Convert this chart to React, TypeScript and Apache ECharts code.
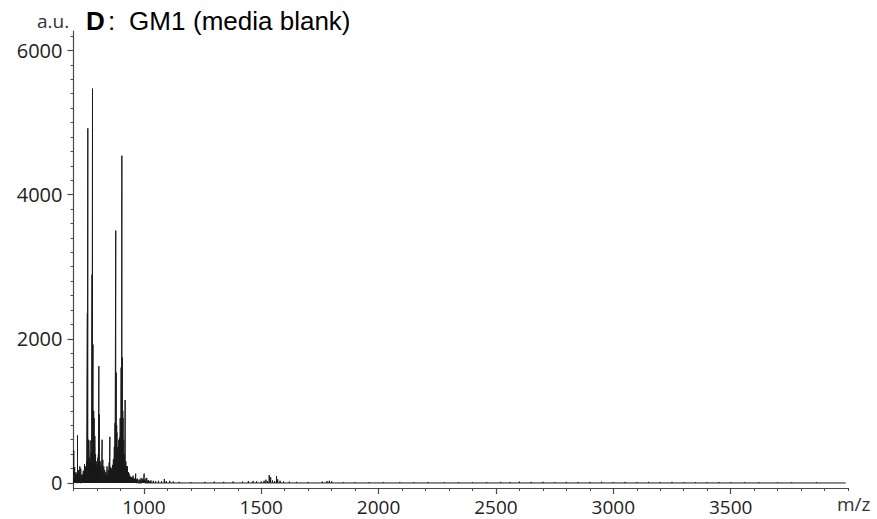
import React, { useEffect, useRef } from "react";
import * as echarts from "echarts";

// Mass range covered by the acquired spectrum (m/z)
const spectrumRange = [700, 3990];

// Centroided peaks: m/z positions and intensities (a.u.)
const peakMz = [
  701, 705, 710, 717, 722, 727, 731, 737, 742, 747, 752, 756, 759, 761, 764, 768,
  771, 775, 779, 781, 783, 786, 788, 791, 794, 797, 800, 804, 808, 810, 813, 817,
  822, 825, 829, 833, 838, 843, 848, 852, 855, 858, 862, 866, 870, 874, 877, 880,
  882, 885, 889, 893, 896, 899, 903, 906, 908, 911, 914, 917, 920, 923, 927, 930,
  934, 937, 942, 948, 954, 960, 965, 972, 980, 988, 995, 1001, 1008, 1012, 1020, 1030,
  1040, 1050, 1062, 1075, 1087, 1095, 1110, 1125, 1150, 1200, 1260, 1300, 1340, 1380, 1420, 1445,
  1465, 1480, 1500, 1512, 1520, 1527, 1534, 1540, 1548, 1557, 1565, 1570, 1580, 1595, 1620, 1650,
  1700, 1760, 1780, 1790, 1800, 1850, 1900, 1960, 2020, 2090, 2150, 2210, 2280, 2340, 2400, 2460,
  2520, 2560, 2600, 2650, 2700, 2750, 2800, 2850, 2900, 2950, 3000, 3050, 3100, 3150, 3200, 3250,
  3300, 3350, 3400, 3450, 3500, 3560, 3620, 3700, 3760, 3866,
];
const peakIntensity = [
  450, 220, 150, 660, 180, 230, 200, 120, 170, 260, 230, 300, 2350, 4920, 600, 350,
  590, 420, 2890, 5470, 1920, 1000, 900, 650, 400, 300, 260, 350, 1620, 950, 300, 250,
  600, 320, 230, 180, 150, 230, 180, 280, 640, 220, 200, 250, 330, 500, 830, 3500,
  1530, 700, 450, 600, 630, 900, 1600, 4540, 1740, 900, 600, 400, 1150, 300, 230, 230,
  150, 130, 90, 80, 100, 60, 130, 60, 50, 70, 60, 130, 60, 70, 40, 35,
  30, 25, 30, 25, 55, 25, 30, 20, 15, 12, 15, 18, 15, 20, 18, 25,
  28, 22, 20, 30, 45, 25, 110, 80, 35, 25, 95, 50, 30, 20, 18, 15,
  12, 18, 25, 30, 22, 10, 10, 12, 10, 12, 10, 12, 10, 12, 10, 12,
  15, 12, 18, 14, 16, 12, 15, 12, 14, 16, 12, 14, 12, 15, 12, 14,
  10, 12, 10, 12, 10, 10, 10, 10, 10, 12,
];

// Unresolved low-level signal filling the base of the 700–1030 cluster
const shoulderMz = [
  703, 707, 713, 720, 725, 734, 739, 745, 750, 754, 766, 773, 777, 785, 790, 793,
  796, 799, 802, 806, 812, 815, 819, 827, 831, 836, 841, 846, 850, 860, 864, 868,
  872, 876, 884, 887, 891, 895, 898, 901, 905, 910, 913, 916, 919, 922, 925, 932,
  939, 945, 951, 957, 963, 968, 975, 984, 992, 998, 1004, 1016, 1025,
];
const shoulderIntensity = [
  120, 90, 130, 100, 140, 110, 90, 150, 120, 160, 250, 300, 350, 700, 500, 300,
  200, 180, 220, 400, 300, 200, 180, 150, 120, 100, 130, 110, 160, 140, 180, 200,
  260, 400, 800, 500, 350, 500, 600, 700, 1200, 1000, 500, 300, 250, 200, 180, 120,
  100, 80, 70, 60, 50, 50, 40, 40, 35, 40, 40, 30, 25,
];

// Axis extents and tick labels
const xExtent = [700, 4000];
const yExtent = [-70, 6270];
const xTickLabels = [1000, 1500, 2000, 2500, 3000, 3500];
const yTickLabels = [0, 2000, 4000, 6000];
const xMinorStep = 100;
const yMinorStep = 200;

const tickFont = "'Open Sans', 'Noto Sans', sans-serif";
const titleFont = "'Liberation Sans', Arial, sans-serif";
const axisColor = "#4a4a4a";

function steps(from: number, to: number, step: number): number[] {
  const out: number[] = [];
  for (let v = from; v <= to + 1e-9; v += step) out.push(v);
  return out;
}

export default function App() {
  const ref = useRef<HTMLDivElement>(null);

  useEffect(() => {
    if (!ref.current) return;
    const chart = echarts.init(ref.current, undefined, { renderer: "svg" });

    // Merge both peak lists in m/z order
    const peaks: [number, number][] = [
      ...peakMz.map((mz, i) => [mz, peakIntensity[i]] as [number, number]),
      ...shoulderMz.map((mz, i) => [mz, shoulderIntensity[i]] as [number, number]),
    ].sort((a, b) => a[0] - b[0]);

    // Stick spectrum: each peak rises from the zero line and returns to it
    const stick: [number, number][] = [[spectrumRange[0], 0]];
    peaks.forEach(([mz, h]) => {
      stick.push([mz, 0], [mz, h], [mz, 0]);
    });
    stick.push([spectrumRange[1], 0]);

    const xMinor = steps(xExtent[0], xExtent[1], xMinorStep);
    const yMinor = steps(0, 6200, yMinorStep);
    const plain = (v: number) => String(v);

    chart.setOption({
      animation: false,
      backgroundColor: "#fff",
      grid: {
        left: 73.5,
        right: 29,
        top: 31,
        bottom: 31,
        outerBoundsMode: "none",
        containLabel: false,
      },
      xAxis: [
        {
          type: "value",
          min: xExtent[0],
          max: xExtent[1],
          axisLine: { show: true, onZero: false, lineStyle: { color: axisColor, width: 1.2 } },
          axisTick: {
            show: true,
            inside: false,
            length: 3,
            customValues: xMinor,
            lineStyle: { color: axisColor, width: 1 },
          },
          axisLabel: {
            customValues: xTickLabels,
            formatter: plain,
            margin: 9,
            color: "#222",
            fontSize: 19,
            fontFamily: tickFont,
          },
          splitLine: { show: false },
        },
        {
          type: "value",
          min: xExtent[0],
          max: xExtent[1],
          position: "bottom",
          axisLine: { show: false, onZero: false },
          axisTick: {
            show: true,
            inside: false,
            length: 6,
            customValues: xTickLabels,
            lineStyle: { color: axisColor, width: 1.2 },
          },
          axisLabel: { show: false },
          splitLine: { show: false },
        },
      ],
      yAxis: [
        {
          type: "value",
          min: yExtent[0],
          max: yExtent[1],
          axisLine: { show: true, lineStyle: { color: axisColor, width: 1.2 } },
          axisTick: {
            show: true,
            inside: false,
            length: 3,
            customValues: yMinor,
            lineStyle: { color: axisColor, width: 1 },
          },
          axisLabel: {
            customValues: yTickLabels,
            formatter: plain,
            margin: 11,
            color: "#222",
            fontSize: 20,
            fontFamily: tickFont,
          },
          splitLine: { show: false },
        },
        {
          type: "value",
          min: yExtent[0],
          max: yExtent[1],
          position: "left",
          axisLine: { show: false },
          axisTick: {
            show: true,
            inside: false,
            length: 6,
            customValues: yTickLabels,
            lineStyle: { color: axisColor, width: 1.2 },
          },
          axisLabel: { show: false },
          splitLine: { show: false },
        },
      ],
      series: [
        {
          type: "line",
          data: stick,
          showSymbol: false,
          symbol: "none",
          silent: true,
          lineStyle: { color: "#1a1a1a", width: 1 },
        },
      ],
      graphic: [
        {
          type: "text",
          left: 37,
          top: 11,
          style: { text: "a.u.", fontSize: 19, fontFamily: tickFont, fill: "#333" },
        },
        {
          type: "text",
          left: 86,
          top: 8,
          style: { text: "D", fontSize: 26, fontWeight: "bold", fontFamily: titleFont, fill: "#000" },
        },
        {
          type: "text",
          left: 108,
          top: 8,
          style: { text: ":", fontSize: 26, fontFamily: titleFont, fill: "#000" },
        },
        {
          type: "text",
          left: 129,
          top: 8,
          style: { text: "GM1", fontSize: 26, fontFamily: titleFont, fill: "#000" },
        },
        {
          type: "text",
          left: 193,
          top: 8,
          style: { text: "(media blank)", fontSize: 26, fontFamily: titleFont, fill: "#000" },
        },
        {
          type: "text",
          left: 837,
          top: 494,
          style: { text: "m/z", fontSize: 19, fontFamily: tickFont, fill: "#333" },
        },
      ],
    });

    return () => chart.dispose();
  }, []);

  return (
    <div
      ref={ref}
      style={{ position: "fixed", left: 0, top: 0, width: 877, height: 519, background: "#fff" }}
    />
  );
}
